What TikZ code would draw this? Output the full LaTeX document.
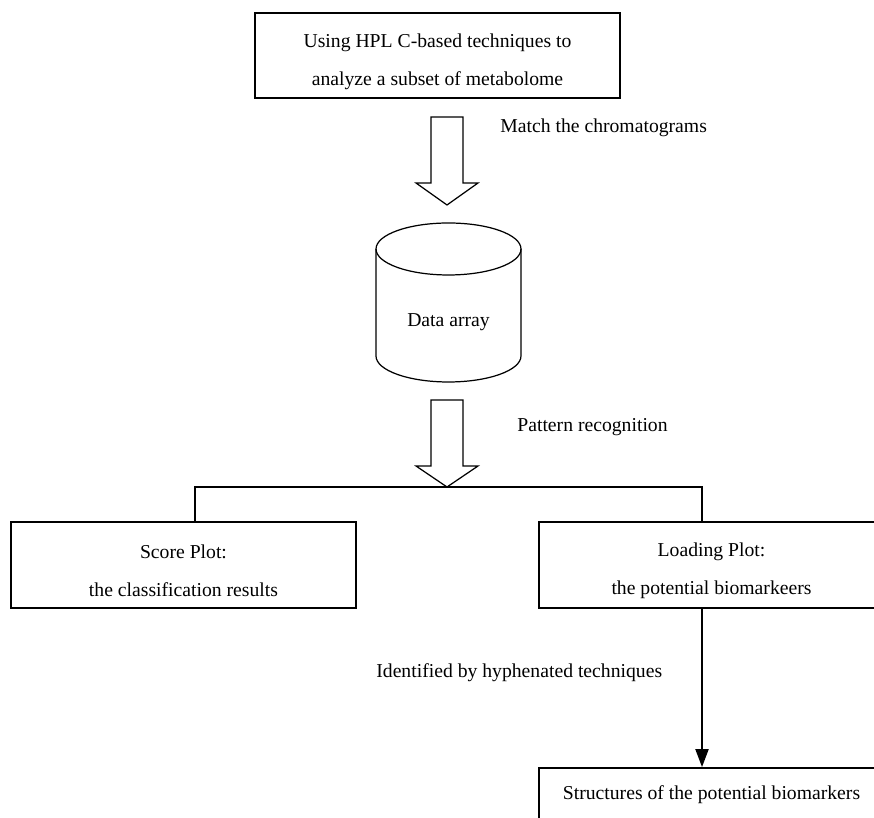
\documentclass[tikz,border=0pt]{standalone}
\usepackage{fontspec}
\setmainfont{Liberation Serif}
\usetikzlibrary{arrows.meta,positioning}

\tikzstyle{block} = [draw, rectangle, line width=1pt, text centered, align=center, minimum width=6.9cm, minimum height=1.72cm, font=\fontsize{11.2}{21.6}\selectfont]
\tikzstyle{caption} = [anchor=west, inner sep=0pt, font=\fontsize{11.2}{13}\selectfont]
\tikzstyle{hollow} = [draw, line width=0.7pt, line join=miter]
\tikzstyle{line} = [draw, line width=1.1pt]
\tikzstyle{arrow} = [draw, line width=1.1pt, -{Triangle[length=0.36cm, width=0.26cm]}]

\begin{document}
\begin{tikzpicture}[x=0.02cm, y=0.02cm]
  \useasboundingbox (0,0) rectangle (874,817);
  \clip (0,0) rectangle (874,817);

  \node[block, minimum width=7.3cm, minimum height=1.7cm] (hplc) at (437.5,761.5) {\rule{0pt}{14.6pt}Using HPL C-based techniques to\\analyze a subset of metabolome};

  % hollow arrow to the data array
  \draw[hollow] (431,700) -- (431,634) -- (416,634) -- (447,612) -- (478,634) -- (463,634) -- (463,700) -- cycle;
  \node[caption] (match) at (500,689) {Match the chromatograms};

  % data array drum
  \draw[line width=0.7pt] (448.5,568) ellipse [x radius=1.45cm, y radius=0.52cm];
  \draw[line width=0.7pt] (376,568) -- (376,461) arc [start angle=180, end angle=360, x radius=1.45cm, y radius=0.52cm] -- (521,568);
  \node[font=\fontsize{11.2}{13}\selectfont] (data) at (448.5,495) {Data array};

  \draw[hollow] (431,417) -- (431,351) -- (416,351) -- (447,330) -- (478,351) -- (463,351) -- (463,417) -- cycle;
  \node[caption] (pattern) at (517,390) {Pattern recognition};

  \node[block] (score) at (183.5,252) {\rule{0pt}{14.6pt}Score Plot:\\the classification results};
  \node[block] (loading) at (711.5,252) {\rule{0pt}{14.6pt}Loading Plot:\\the potential biomarkeers};
  \node[block, minimum height=1.08cm] (struct) at (711.5,22) {Structures of the potential biomarkers};

  \draw[line] ([xshift=0.23cm]score.north) |- ([xshift=-0.19cm, yshift=0.68cm]loading.north) -- ([xshift=-0.19cm]loading.north);
  \draw[arrow] ([xshift=-0.19cm]loading.south) -- ([xshift=-0.19cm]struct.north);
  \node[caption] (ident) at (376,144) {Identified by hyphenated techniques};
\end{tikzpicture}
\end{document}
